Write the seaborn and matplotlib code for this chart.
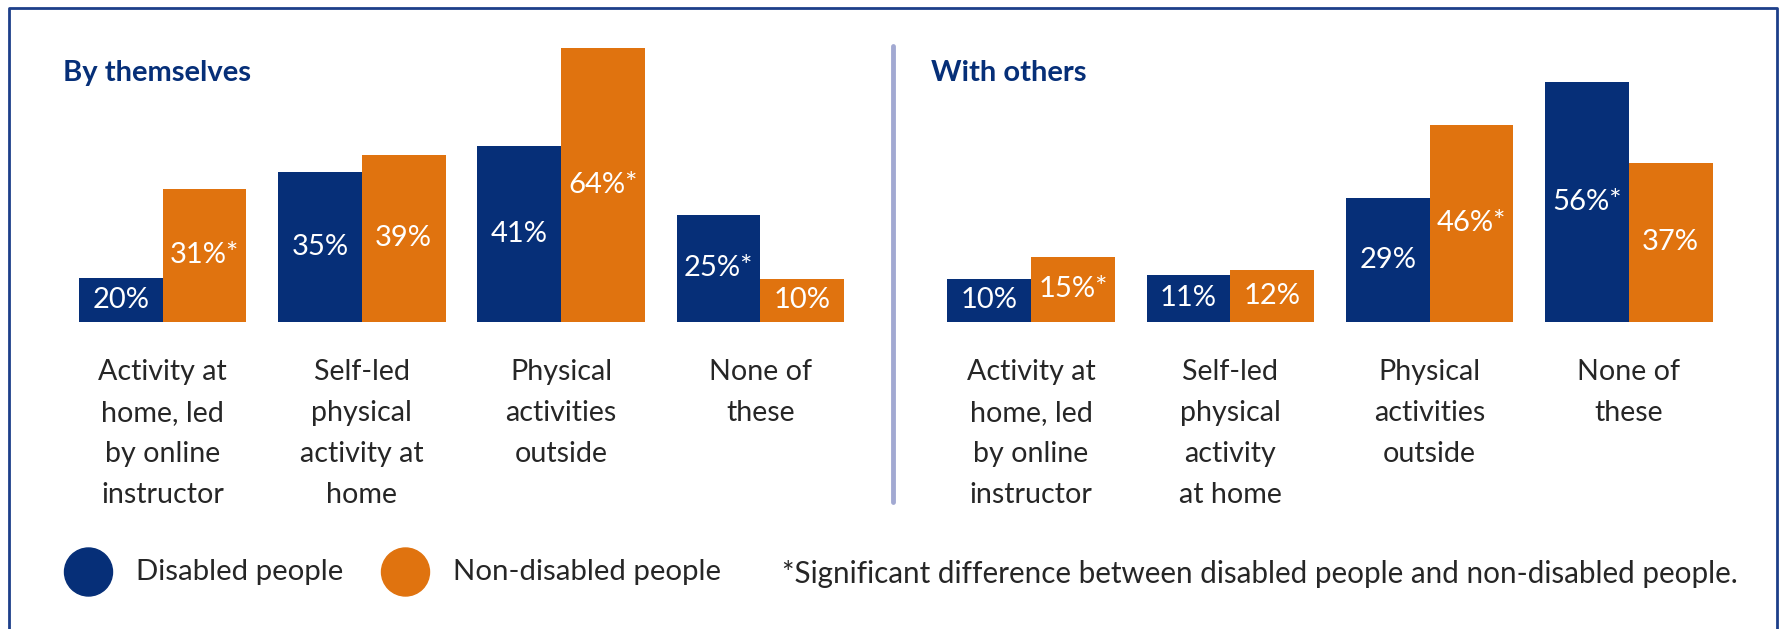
import pandas as pd
import matplotlib
matplotlib.use("Agg")
import matplotlib.pyplot as plt
from matplotlib.lines import Line2D
from matplotlib.patches import Ellipse
import seaborn as sns

BLUE = "#062f78"
ORANGE = "#e0730f"
FRAME = "#1d3f8a"
SEP = "#a2a9d2"

groups = ["Disabled people", "Non-disabled people"]

# by themselves
alone_cats = ["Activity at\nhome, led\nby online\ninstructor",
              "Self-led\nphysical\nactivity at\nhome",
              "Physical\nactivities\noutside",
              "None of\nthese"]
# bar heights as drawn (first blue bar is drawn shorter than its 20% label)
alone_disabled = [10.3, 35, 41, 25]
alone_nondisabled = [31, 39, 64, 10]
alone_disabled_lbl = ["20%", "35%", "41%", "25%*"]
alone_nondisabled_lbl = ["31%*", "39%", "64%*", "10%"]

# with others
others_cats = ["Activity at\nhome, led\nby online\ninstructor",
               "Self-led\nphysical\nactivity\nat home",
               "Physical\nactivities\noutside",
               "None of\nthese"]
others_disabled = [10, 11, 29, 56]
others_nondisabled = [15, 12, 46, 37]
others_disabled_lbl = ["10%", "11%", "29%", "56%*"]
others_nondisabled_lbl = ["15%*", "12%", "46%*", "37%"]

note = "*Significant difference between disabled people and non-disabled people."

sns.set_style("white")
plt.rcParams["font.family"] = ["Lato", "DejaVu Sans"]

W, H = 1781, 629
fig = plt.figure(figsize=(W / 100, H / 100), dpi=100)


def make_df(cats, a, b):
    return pd.DataFrame({
        "activity": cats * 2,
        "share": a + b,
        "group": [groups[0]] * len(cats) + [groups[1]] * len(cats),
    })


def panel(left, cats, a, b, la, lb):
    ax = fig.add_axes([left / W, 307.5 / H, 797 / W, 299 / H])
    df = make_df(cats, a, b)
    sns.barplot(data=df, x="activity", y="share", hue="group", order=cats,
                hue_order=groups, palette=[BLUE, ORANGE], saturation=1,
                width=0.84, legend=False, ax=ax, linewidth=0)
    for cont, lbls in zip(ax.containers, [la, lb]):
        ax.bar_label(cont, labels=lbls, label_type="center", color="white",
                     fontsize=21)
    ax.set_xlim(-0.5, 3.5)
    ax.set_ylim(0, 70)
    ax.set(xlabel="", ylabel="", yticks=[])
    ax.tick_params(axis="x", length=0, pad=27, labelsize=20.6)
    for t in ax.get_xticklabels():
        t.set_linespacing(1.71)
    sns.despine(ax=ax, left=True, bottom=True)
    ax.patch.set_alpha(0)
    return ax


panel(63, alone_cats, alone_disabled, alone_nondisabled,
      alone_disabled_lbl, alone_nondisabled_lbl)
panel(931.5, others_cats, others_disabled, others_nondisabled,
      others_disabled_lbl, others_nondisabled_lbl)

fig.text(63 / W, 1 - 73 / H, "By themselves", fontsize=21, fontweight="bold",
         color=BLUE, va="center")
fig.text(931 / W, 1 - 73 / H, "With others", fontsize=21, fontweight="bold",
         color=BLUE, va="center")

# separator between panels
fig.add_artist(Line2D([893.5 / W] * 2, [1 - 46 / H, 1 - 502 / H],
                      color=SEP, lw=3.5, transform=fig.transFigure))

# frame (left, top, right)
fig.add_artist(Line2D([9 / W, 9 / W, 1777 / W, 1777 / W],
                      [0, 1 - 8 / H, 1 - 8 / H, 0],
                      color=FRAME, lw=2, transform=fig.transFigure))

# legend
for cx, col, txt, tx in [(88.5, BLUE, groups[0], 136), (405.5, ORANGE, groups[1], 453)]:
    fig.add_artist(Ellipse((cx / W, 1 - 572 / H), 48 / W, 48 / H, color=col,
                           transform=fig.transFigure))
    fig.text(tx / W, 1 - 572 / H, txt, fontsize=21.2, va="center")
fig.text(782 / W, 1 - 574 / H, note, fontsize=21.3, va="center")

fig.savefig("out.png", dpi=100, facecolor="white")
